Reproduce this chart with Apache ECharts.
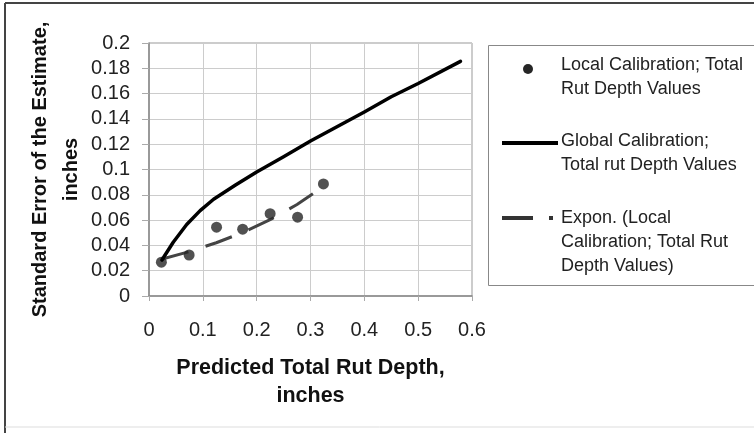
<!DOCTYPE html>
<html>
<head>
<meta charset="utf-8">
<script src="https://cdn.jsdelivr.net/npm/echarts@6/dist/echarts.min.js"></script>
<style>html,body{margin:0;padding:0;background:#fff;}#c{width:754px;height:433px;}</style>
</head>
<body>
<div id="c"></div>
<script>
// Local calibration points
const localX = [0.023, 0.0745, 0.1255, 0.174, 0.225, 0.276, 0.324];
const localY = [0.0267, 0.0324, 0.0544, 0.0528, 0.0651, 0.0623, 0.0886];
// Global calibration curve
const globalX = [0.024, 0.045, 0.07, 0.095, 0.12, 0.16, 0.2, 0.25, 0.3, 0.35, 0.4, 0.45, 0.5, 0.5786];
const globalY = [0.0285, 0.0425, 0.0565, 0.0675, 0.0765, 0.0875, 0.098, 0.110, 0.1225, 0.134, 0.1455, 0.1575, 0.168, 0.1855];
// Exponential trend of the local points
const expX = [0.023, 0.075, 0.125, 0.175, 0.225, 0.275, 0.324];
const expY = [0.0291, 0.0351, 0.0421, 0.0503, 0.0603, 0.0723, 0.0865];

const seriesNames = [
  'Local Calibration; Total\nRut Depth Values',
  'Global Calibration;\nTotal rut Depth Values',
  'Expon. (Local\nCalibration; Total Rut\nDepth Values)'
];
const xTitle = 'Predicted Total Rut Depth,\ninches';
const yTitle = 'Standard Error of the Estimate,\ninches';

const zip = (a, b) => a.map((v, i) => [v, b[i]]);
const FONT = 'Liberation Sans, Arial, sans-serif';

const chart = echarts.init(document.getElementById('c'), null, {renderer: 'canvas'});
chart.setOption({
  animation: false,
  backgroundColor: '#fff',
  textStyle: {fontFamily: FONT},
  grid: {left: 149, top: 43, width: 323, height: 253, show: true, borderColor: '#999', borderWidth: 1},
  xAxis: {
    type: 'value', min: 0, max: 0.6, interval: 0.1,
    name: xTitle, nameLocation: 'middle', nameGap: 58,
    nameTextStyle: {fontFamily: FONT, fontSize: 21.5, fontWeight: 'bold', color: '#111', lineHeight: 28},
    axisLine: {show: true, lineStyle: {color: '#888', width: 1.5}},
    axisTick: {show: true, length: 5, lineStyle: {color: '#aaa'}},
    axisLabel: {fontFamily: FONT, fontSize: 20, color: '#222', margin: 24,
      formatter: v => String(parseFloat(v.toFixed(2)))},
    splitLine: {show: true, lineStyle: {color: '#ccc', width: 1}}
  },
  yAxis: {
    type: 'value', min: 0, max: 0.2, interval: 0.02,
    name: yTitle, nameLocation: 'middle', nameGap: 62, nameRotate: 90,
    nameTextStyle: {fontFamily: FONT, fontSize: 20, fontWeight: 'bold', color: '#111', lineHeight: 31},
    axisLine: {show: true, lineStyle: {color: '#888', width: 1.5}},
    axisTick: {show: true, length: 7, lineStyle: {color: '#aaa'}},
    axisLabel: {fontFamily: FONT, fontSize: 20, color: '#222', margin: 19,
      formatter: v => String(parseFloat(v.toFixed(2)))},
    splitLine: {show: true, lineStyle: {color: '#ccc', width: 1}}
  },
  series: [
    {
      name: seriesNames[2], type: 'line', data: zip(expX, expY),
      showSymbol: false, symbol: 'none', z: 2,
      lineStyle: {color: '#444', width: 3, type: [28, 18]}
    },
    {
      name: seriesNames[0], type: 'scatter', data: zip(localX, localY),
      symbol: 'circle', symbolSize: 11, z: 3,
      itemStyle: {color: '#262626'}
    },
    {
      name: seriesNames[1], type: 'line', data: zip(globalX, globalY),
      showSymbol: false, symbol: 'none', smooth: false, z: 4,
      lineStyle: {color: '#000', width: 3.5, join: 'round', cap: 'round'}
    }
  ],
  graphic: [
    // outer frame
    {type: 'line', shape: {x1: 5, y1: 3, x2: 754, y2: 3}, style: {stroke: '#444', lineWidth: 2}, silent: true},
    {type: 'line', shape: {x1: 5, y1: 3, x2: 5, y2: 433}, style: {stroke: '#444', lineWidth: 2}, silent: true},
    {type: 'line', shape: {x1: 5, y1: 427, x2: 754, y2: 427}, style: {stroke: '#ddd', lineWidth: 1}, silent: true},
    // legend box
    {type: 'rect', shape: {x: 488.5, y: 45.5, width: 290, height: 240}, style: {fill: '#fff', stroke: '#888', lineWidth: 1}, silent: true},
    // legend icons
    {type: 'circle', shape: {cx: 528, cy: 69, r: 5}, style: {fill: '#262626'}, silent: true},
    {type: 'line', shape: {x1: 502, y1: 143, x2: 558, y2: 143}, style: {stroke: '#000', lineWidth: 4}, silent: true},
    {type: 'line', shape: {x1: 502, y1: 218, x2: 533, y2: 218}, style: {stroke: '#333', lineWidth: 4}, silent: true},
    {type: 'rect', shape: {x: 549, y: 216, width: 4, height: 4}, style: {fill: '#333'}, silent: true},
    // legend texts
    {type: 'text', x: 561, y: 53, style: {text: seriesNames[0], fontFamily: FONT, fontSize: 18, lineHeight: 24, fill: '#222'}, silent: true},
    {type: 'text', x: 561, y: 129, style: {text: seriesNames[1], fontFamily: FONT, fontSize: 18, lineHeight: 24, fill: '#222'}, silent: true},
    {type: 'text', x: 561, y: 206, style: {text: seriesNames[2], fontFamily: FONT, fontSize: 18, lineHeight: 24, fill: '#222'}, silent: true}
  ]
});
</script>
</body>
</html>
